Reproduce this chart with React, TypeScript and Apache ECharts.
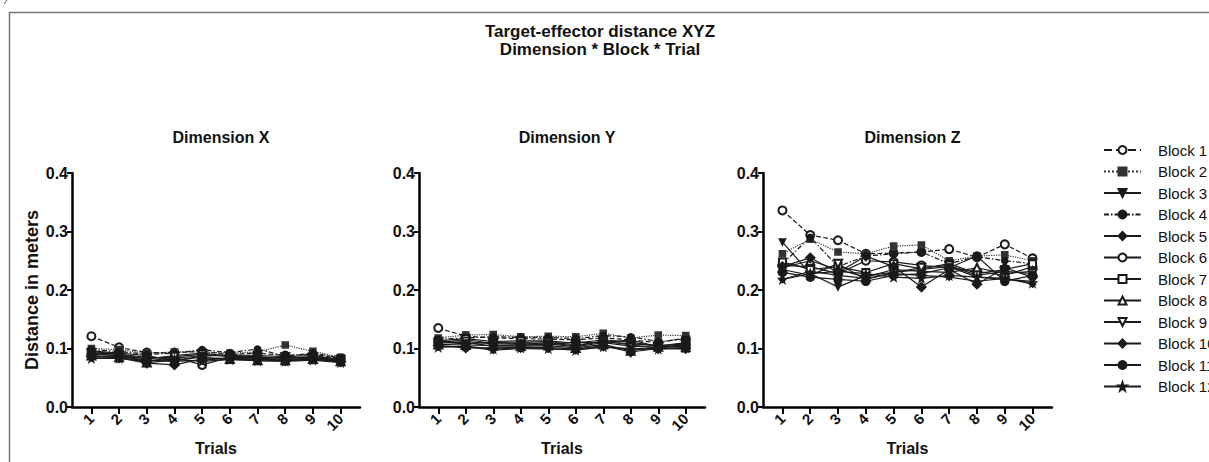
import { useEffect, useRef } from "react";
import * as echarts from "echarts";

const trials = [1, 2, 3, 4, 5, 6, 7, 8, 9, 10];
const blocks = ["Block 1", "Block 2", "Block 3", "Block 4", "Block 5", "Block 6", "Block 7", "Block 8", "Block 9", "Block 10", "Block 11", "Block 12"];
const yTicks = [0, 0.1, 0.2, 0.3, 0.4];
const panelTitles = ["Dimension X", "Dimension Y", "Dimension Z"];
const mainTitle = "Target-effector distance XYZ\nDimension * Block * Trial";
const yAxisTitle = "Distance in meters";
const xAxisTitle = "Trials";

const dimX = [
  [0.121, 0.102, 0.093, 0.093, 0.095, 0.090, 0.092, 0.088, 0.090, 0.083],
  [0.100, 0.098, 0.092, 0.094, 0.094, 0.092, 0.094, 0.106, 0.095, 0.085],
  [0.095, 0.090, 0.085, 0.083, 0.088, 0.088, 0.085, 0.084, 0.085, 0.080],
  [0.098, 0.095, 0.090, 0.092, 0.098, 0.093, 0.099, 0.087, 0.092, 0.084],
  [0.085, 0.086, 0.080, 0.078, 0.080, 0.083, 0.082, 0.080, 0.082, 0.078],
  [0.090, 0.088, 0.078, 0.085, 0.072, 0.085, 0.083, 0.082, 0.083, 0.080],
  [0.093, 0.090, 0.082, 0.088, 0.092, 0.087, 0.086, 0.083, 0.086, 0.082],
  [0.088, 0.085, 0.076, 0.080, 0.085, 0.082, 0.080, 0.080, 0.082, 0.078],
  [0.092, 0.087, 0.083, 0.086, 0.090, 0.086, 0.084, 0.085, 0.084, 0.080],
  [0.087, 0.084, 0.075, 0.072, 0.082, 0.084, 0.081, 0.079, 0.082, 0.077],
  [0.096, 0.092, 0.088, 0.079, 0.087, 0.089, 0.088, 0.086, 0.088, 0.081],
  [0.083, 0.083, 0.079, 0.082, 0.078, 0.081, 0.079, 0.078, 0.080, 0.076],
];

const dimY = [
  [0.135, 0.121, 0.118, 0.117, 0.116, 0.115, 0.118, 0.115, 0.110, 0.118],
  [0.118, 0.123, 0.124, 0.120, 0.121, 0.120, 0.126, 0.118, 0.123, 0.122],
  [0.112, 0.110, 0.104, 0.105, 0.108, 0.103, 0.110, 0.104, 0.102, 0.104],
  [0.116, 0.118, 0.120, 0.119, 0.119, 0.117, 0.122, 0.120, 0.112, 0.116],
  [0.104, 0.103, 0.097, 0.100, 0.099, 0.098, 0.102, 0.100, 0.100, 0.099],
  [0.110, 0.115, 0.109, 0.110, 0.112, 0.106, 0.112, 0.108, 0.105, 0.108],
  [0.113, 0.117, 0.112, 0.113, 0.113, 0.109, 0.115, 0.111, 0.104, 0.110],
  [0.107, 0.106, 0.105, 0.104, 0.105, 0.101, 0.107, 0.096, 0.103, 0.102],
  [0.109, 0.112, 0.108, 0.107, 0.110, 0.104, 0.113, 0.106, 0.101, 0.107],
  [0.105, 0.101, 0.101, 0.102, 0.102, 0.099, 0.105, 0.094, 0.100, 0.100],
  [0.111, 0.108, 0.111, 0.108, 0.107, 0.111, 0.110, 0.115, 0.103, 0.106],
  [0.102, 0.104, 0.099, 0.101, 0.100, 0.097, 0.103, 0.099, 0.099, 0.101],
];

const dimZ = [
  [0.336, 0.294, 0.285, 0.262, 0.263, 0.265, 0.270, 0.256, 0.278, 0.254],
  [0.262, 0.287, 0.265, 0.262, 0.275, 0.277, 0.250, 0.258, 0.260, 0.250],
  [0.282, 0.228, 0.205, 0.225, 0.230, 0.235, 0.240, 0.222, 0.218, 0.215],
  [0.245, 0.290, 0.240, 0.258, 0.262, 0.265, 0.245, 0.257, 0.250, 0.245],
  [0.218, 0.232, 0.225, 0.220, 0.228, 0.225, 0.222, 0.215, 0.220, 0.210],
  [0.242, 0.240, 0.228, 0.250, 0.248, 0.242, 0.238, 0.232, 0.225, 0.240],
  [0.248, 0.235, 0.240, 0.230, 0.245, 0.236, 0.245, 0.228, 0.235, 0.245],
  [0.238, 0.250, 0.235, 0.222, 0.235, 0.232, 0.230, 0.238, 0.228, 0.232],
  [0.235, 0.225, 0.245, 0.218, 0.230, 0.238, 0.242, 0.225, 0.232, 0.228],
  [0.240, 0.255, 0.230, 0.258, 0.240, 0.205, 0.235, 0.210, 0.238, 0.222],
  [0.230, 0.222, 0.218, 0.215, 0.225, 0.228, 0.238, 0.258, 0.215, 0.225],
  [0.218, 0.228, 0.232, 0.228, 0.222, 0.220, 0.225, 0.222, 0.220, 0.212],
];

const dims = [dimX, dimY, dimZ];

const FONT = "'Liberation Sans', Arial, Helvetica, sans-serif";
const STAR = "path://M50,0 L61,35 L98,35 L68,57 L79,91 L50,70 L21,91 L32,57 L2,35 L39,35 Z";

const blockStyles: any[] = [
  { symbol: "emptyCircle", size: 8, line: "dashed", color: "#1a1a1a" },
  { symbol: "rect", size: 6, line: "dotted", color: "#333" },
  { symbol: "triangle", rotate: 180, size: 6, line: "solid", color: "#1a1a1a" },
  { symbol: "circle", size: 6, line: [5, 2, 1.5, 2], color: "#1a1a1a" },
  { symbol: "diamond", size: 6, line: "solid", color: "#1a1a1a" },
  { symbol: "emptyCircle", size: 8, line: "solid", color: "#1a1a1a" },
  { symbol: "emptyRect", size: 7, line: "solid", color: "#1a1a1a" },
  { symbol: "emptyTriangle", size: 8, line: "solid", color: "#1a1a1a" },
  { symbol: "emptyTriangle", rotate: 180, size: 8, line: "solid", color: "#1a1a1a" },
  { symbol: "diamond", size: 9, line: "solid", color: "#1a1a1a" },
  { symbol: "circle", size: 8, line: "solid", color: "#1a1a1a" },
  { symbol: STAR, size: 7, line: "solid", color: "#1a1a1a" },
];

const grids = [
  { left: 72, top: 173, width: 288, height: 234 },
  { left: 419, top: 173, width: 286, height: 234 },
  { left: 763, top: 173, width: 289, height: 234 },
];

export default function App() {
  const ref = useRef<HTMLDivElement>(null);
  useEffect(() => {
    if (!ref.current) return;
    const chart = echarts.init(ref.current, null, { renderer: "svg" });

    const xAxes = grids.map((_, gi) => ({
      type: "value",
      gridIndex: gi,
      min: 0.3,
      max: 10.7,
      name: xAxisTitle,
      nameLocation: "middle",
      nameGap: 27,
      nameTextStyle: { fontFamily: FONT, fontSize: 16, fontWeight: "bold", color: "#111" },
      splitLine: { show: false },
      axisLine: { show: true, onZero: false, lineStyle: { color: "#000", width: 2.5 } },
      axisTick: { show: true, customValues: trials, length: 7, lineStyle: { color: "#000", width: 2 } },
      axisLabel: {
        customValues: trials,
        rotate: 45,
        margin: 9,
        fontFamily: FONT,
        fontSize: 15,
        fontWeight: "bold",
        color: "#111",
      },
    }));

    const yAxes = grids.map((_, gi) => ({
      type: "value",
      gridIndex: gi,
      min: 0,
      max: 0.4,
      interval: 0.1,
      name: gi === 0 ? yAxisTitle : "",
      nameLocation: "middle",
      nameGap: 31,
      nameTextStyle: { fontFamily: FONT, fontSize: 18, fontWeight: "bold", color: "#111" },
      splitLine: { show: false },
      axisLine: { show: true, lineStyle: { color: "#000", width: 2.5 } },
      axisTick: { show: true, length: 5, lineStyle: { color: "#000", width: 2 } },
      axisLabel: {
        margin: 4,
        fontFamily: FONT,
        fontSize: 16,
        fontWeight: "bold",
        color: "#111",
        customValues: yTicks,
        formatter: (v: number) => v.toFixed(1),
      },
    }));

    const series: any[] = [];
    dims.forEach((dim, gi) => {
      dim.forEach((vals, bi) => {
        const st = blockStyles[bi];
        series.push({
          type: "line",
          name: blocks[bi],
          xAxisIndex: gi,
          yAxisIndex: gi,
          data: vals.map((v, i) => [trials[i], v]),
          symbol: st.symbol,
          symbolSize: st.size,
          symbolRotate: st.rotate || 0,
          showAllSymbol: true,
          lineStyle: { color: st.color, width: 1.2, type: st.line },
          itemStyle: { color: st.color, borderColor: st.color, borderWidth: 1.6 },
          emphasis: { disabled: true },
          z: 3,
        });
      });
    });

    const option: any = {
      animation: false,
      backgroundColor: "#fff",
      title: [
        {
          text: mainTitle,
          left: 595,
          top: 17,
          textAlign: "center",
          textStyle: { fontFamily: FONT, fontSize: 17, fontWeight: "bold", color: "#111", lineHeight: 18 },
        },
        ...panelTitles.map((t, i) => ({
          text: t,
          left: grids[i].left + grids[i].width / 2,
          top: 124,
          textAlign: "center",
          textStyle: { fontFamily: FONT, fontSize: 16, fontWeight: "bold", color: "#111", lineHeight: 17 },
        })),
      ],
      legend: {
        orient: "vertical",
        left: 1098,
        top: 137,
        itemWidth: 37,
        itemHeight: 10,
        itemGap: 5.5,
        selectedMode: false,
        data: blocks,
        lineStyle: { width: 2 },
        textStyle: { fontFamily: FONT, fontSize: 15, color: "#111", lineHeight: 16, padding: [0, 0, 0, 12] },
      },
      grid: grids.map((g) => ({ ...g, containLabel: false })),
      xAxis: xAxes,
      yAxis: yAxes,
      series,
      graphic: [
        {
          type: "rect",
          shape: { x: 9.5, y: 12.5, width: 1300, height: 500 },
          style: { fill: "none", stroke: "#777", lineWidth: 1.5 },
          silent: true,
        },
        {
          type: "line",
          shape: { x1: 4, y1: 4, x2: 7, y2: 0 },
          style: { stroke: "#555", lineWidth: 1 },
          silent: true,
        },
      ],
    };
    chart.setOption(option);
    return () => chart.dispose();
  }, []);
  return <div ref={ref} style={{ position: "fixed", left: 0, top: 0, width: 1209, height: 462 }} />;
}
